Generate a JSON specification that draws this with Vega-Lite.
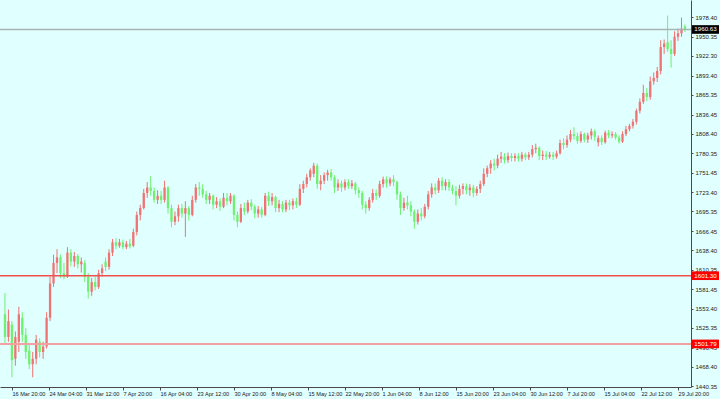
{
  "$schema": "https://vega.github.io/schema/vega-lite/v6.json",
  "width": 691,
  "height": 387,
  "autosize": {"type": "none"},
  "padding": {"left": 0, "top": 0, "right": 29, "bottom": 12},
  "background": "#e0ffff",
  "view": {"stroke": null},
  "config": {
    "font": "Liberation Sans",
    "axis": {"domainColor": "#4a4a4a", "tickColor": "#4a4a4a", "labelColor": "#222222", "grid": false, "title": null, "labelOverlap": false, "labelFlush": false, "labelBound": false}
  },
  "datasets": {
    "candles": [
      {"t":-24,"o":1545,"h":1576,"l":1500,"c":1512},
      {"t":-12,"o":1512,"h":1552,"l":1505,"c":1535},
      {"t":0,"o":1530,"h":1535,"l":1453,"c":1478},
      {"t":12,"o":1480,"h":1520,"l":1470,"c":1512},
      {"t":24,"o":1505,"h":1556,"l":1490,"c":1545},
      {"t":36,"o":1540,"h":1548,"l":1505,"c":1515},
      {"t":48,"o":1515,"h":1525,"l":1480,"c":1490},
      {"t":60,"o":1492,"h":1500,"l":1465,"c":1472},
      {"t":72,"o":1472,"h":1490,"l":1453,"c":1480},
      {"t":84,"o":1480,"h":1515,"l":1472,"c":1508},
      {"t":96,"o":1505,"h":1510,"l":1482,"c":1490},
      {"t":108,"o":1490,"h":1505,"l":1480,"c":1498},
      {"t":120,"o":1498,"h":1548,"l":1495,"c":1540},
      {"t":132,"o":1540,"h":1600,"l":1535,"c":1590},
      {"t":144,"o":1590,"h":1632,"l":1585,"c":1620},
      {"t":156,"o":1620,"h":1640,"l":1605,"c":1628},
      {"t":168,"o":1628,"h":1632,"l":1598,"c":1605},
      {"t":180,"o":1605,"h":1620,"l":1596,"c":1600},
      {"t":192,"o":1600,"h":1643,"l":1598,"c":1635},
      {"t":204,"o":1635,"h":1640,"l":1615,"c":1622},
      {"t":216,"o":1622,"h":1636,"l":1614,"c":1630},
      {"t":228,"o":1630,"h":1633,"l":1612,"c":1618},
      {"t":240,"o":1618,"h":1628,"l":1606,"c":1622},
      {"t":252,"o":1620,"h":1624,"l":1592,"c":1600},
      {"t":264,"o":1600,"h":1605,"l":1568,"c":1578},
      {"t":276,"o":1578,"h":1598,"l":1572,"c":1592},
      {"t":288,"o":1592,"h":1600,"l":1580,"c":1585},
      {"t":300,"o":1585,"h":1610,"l":1582,"c":1605},
      {"t":312,"o":1605,"h":1618,"l":1600,"c":1612},
      {"t":324,"o":1622,"h":1628,"l":1608,"c":1614},
      {"t":336,"o":1614,"h":1640,"l":1610,"c":1635},
      {"t":348,"o":1635,"h":1655,"l":1630,"c":1650},
      {"t":360,"o":1650,"h":1656,"l":1640,"c":1645},
      {"t":372,"o":1645,"h":1655,"l":1642,"c":1650},
      {"t":384,"o":1650,"h":1654,"l":1640,"c":1643},
      {"t":396,"o":1643,"h":1652,"l":1640,"c":1648},
      {"t":408,"o":1648,"h":1655,"l":1641,"c":1644},
      {"t":420,"o":1645,"h":1670,"l":1643,"c":1665},
      {"t":432,"o":1665,"h":1695,"l":1660,"c":1690},
      {"t":444,"o":1690,"h":1705,"l":1682,"c":1700},
      {"t":456,"o":1700,"h":1728,"l":1698,"c":1722},
      {"t":468,"o":1722,"h":1738,"l":1715,"c":1730},
      {"t":480,"o":1730,"h":1747,"l":1718,"c":1725},
      {"t":492,"o":1725,"h":1730,"l":1708,"c":1712},
      {"t":504,"o":1712,"h":1726,"l":1706,"c":1718},
      {"t":516,"o":1718,"h":1725,"l":1706,"c":1712},
      {"t":528,"o":1712,"h":1740,"l":1708,"c":1730},
      {"t":540,"o":1730,"h":1732,"l":1692,"c":1700},
      {"t":552,"o":1700,"h":1705,"l":1672,"c":1680},
      {"t":564,"o":1680,"h":1695,"l":1675,"c":1688},
      {"t":576,"o":1688,"h":1705,"l":1680,"c":1700},
      {"t":588,"o":1700,"h":1706,"l":1686,"c":1692},
      {"t":600,"o":1692,"h":1710,"l":1658,"c":1700},
      {"t":612,"o":1700,"h":1703,"l":1682,"c":1690},
      {"t":624,"o":1690,"h":1718,"l":1688,"c":1712},
      {"t":636,"o":1712,"h":1735,"l":1708,"c":1730},
      {"t":648,"o":1730,"h":1738,"l":1718,"c":1728},
      {"t":660,"o":1728,"h":1735,"l":1715,"c":1720},
      {"t":672,"o":1720,"h":1725,"l":1706,"c":1712},
      {"t":684,"o":1712,"h":1722,"l":1706,"c":1718},
      {"t":696,"o":1718,"h":1720,"l":1698,"c":1705},
      {"t":708,"o":1705,"h":1716,"l":1700,"c":1710},
      {"t":720,"o":1710,"h":1714,"l":1696,"c":1702},
      {"t":732,"o":1702,"h":1722,"l":1700,"c":1715},
      {"t":744,"o":1715,"h":1722,"l":1704,"c":1710},
      {"t":756,"o":1710,"h":1722,"l":1706,"c":1718},
      {"t":768,"o":1718,"h":1720,"l":1682,"c":1690},
      {"t":780,"o":1690,"h":1695,"l":1672,"c":1680},
      {"t":792,"o":1680,"h":1706,"l":1678,"c":1700},
      {"t":804,"o":1700,"h":1708,"l":1690,"c":1695},
      {"t":816,"o":1695,"h":1712,"l":1692,"c":1708},
      {"t":828,"o":1708,"h":1713,"l":1697,"c":1702},
      {"t":840,"o":1702,"h":1705,"l":1685,"c":1692},
      {"t":852,"o":1692,"h":1703,"l":1686,"c":1698},
      {"t":864,"o":1698,"h":1702,"l":1686,"c":1690},
      {"t":876,"o":1690,"h":1722,"l":1688,"c":1718},
      {"t":888,"o":1718,"h":1724,"l":1703,"c":1710},
      {"t":900,"o":1710,"h":1722,"l":1704,"c":1716},
      {"t":912,"o":1716,"h":1718,"l":1694,"c":1700},
      {"t":924,"o":1700,"h":1712,"l":1694,"c":1706},
      {"t":936,"o":1706,"h":1710,"l":1694,"c":1698},
      {"t":948,"o":1698,"h":1712,"l":1694,"c":1708},
      {"t":960,"o":1708,"h":1712,"l":1697,"c":1704},
      {"t":972,"o":1704,"h":1714,"l":1698,"c":1710},
      {"t":984,"o":1710,"h":1715,"l":1700,"c":1705},
      {"t":996,"o":1705,"h":1735,"l":1703,"c":1728},
      {"t":1008,"o":1728,"h":1740,"l":1722,"c":1735},
      {"t":1020,"o":1735,"h":1750,"l":1730,"c":1745},
      {"t":1032,"o":1745,"h":1758,"l":1740,"c":1755},
      {"t":1044,"o":1750,"h":1766,"l":1745,"c":1762},
      {"t":1056,"o":1762,"h":1765,"l":1728,"c":1735},
      {"t":1068,"o":1735,"h":1748,"l":1726,"c":1740},
      {"t":1080,"o":1740,"h":1752,"l":1735,"c":1748},
      {"t":1092,"o":1748,"h":1756,"l":1740,"c":1752},
      {"t":1104,"o":1752,"h":1757,"l":1740,"c":1745},
      {"t":1116,"o":1745,"h":1748,"l":1722,"c":1730},
      {"t":1128,"o":1730,"h":1742,"l":1725,"c":1736},
      {"t":1140,"o":1736,"h":1740,"l":1724,"c":1730},
      {"t":1152,"o":1730,"h":1742,"l":1726,"c":1738},
      {"t":1164,"o":1738,"h":1742,"l":1728,"c":1732},
      {"t":1176,"o":1732,"h":1741,"l":1728,"c":1736},
      {"t":1188,"o":1736,"h":1738,"l":1720,"c":1726},
      {"t":1200,"o":1726,"h":1730,"l":1715,"c":1722},
      {"t":1212,"o":1722,"h":1725,"l":1698,"c":1705},
      {"t":1224,"o":1705,"h":1710,"l":1692,"c":1700},
      {"t":1236,"o":1700,"h":1716,"l":1696,"c":1712},
      {"t":1248,"o":1712,"h":1728,"l":1708,"c":1722},
      {"t":1260,"o":1722,"h":1727,"l":1712,"c":1718},
      {"t":1272,"o":1718,"h":1740,"l":1715,"c":1735},
      {"t":1284,"o":1735,"h":1746,"l":1730,"c":1742},
      {"t":1296,"o":1742,"h":1746,"l":1730,"c":1736},
      {"t":1308,"o":1736,"h":1745,"l":1732,"c":1742},
      {"t":1320,"o":1742,"h":1748,"l":1732,"c":1738},
      {"t":1332,"o":1738,"h":1740,"l":1712,"c":1720},
      {"t":1344,"o":1720,"h":1724,"l":1690,"c":1700},
      {"t":1356,"o":1700,"h":1715,"l":1696,"c":1708},
      {"t":1368,"o":1708,"h":1718,"l":1698,"c":1704},
      {"t":1380,"o":1704,"h":1710,"l":1688,"c":1695},
      {"t":1392,"o":1695,"h":1698,"l":1670,"c":1680},
      {"t":1404,"o":1680,"h":1698,"l":1676,"c":1692},
      {"t":1416,"o":1692,"h":1700,"l":1682,"c":1688},
      {"t":1428,"o":1688,"h":1706,"l":1685,"c":1702},
      {"t":1440,"o":1702,"h":1725,"l":1698,"c":1720},
      {"t":1452,"o":1720,"h":1736,"l":1715,"c":1730},
      {"t":1464,"o":1730,"h":1736,"l":1720,"c":1726},
      {"t":1476,"o":1726,"h":1744,"l":1722,"c":1740},
      {"t":1488,"o":1740,"h":1745,"l":1726,"c":1732},
      {"t":1500,"o":1732,"h":1742,"l":1726,"c":1738},
      {"t":1512,"o":1738,"h":1742,"l":1725,"c":1730},
      {"t":1524,"o":1730,"h":1734,"l":1720,"c":1725},
      {"t":1536,"o":1725,"h":1732,"l":1704,"c":1718},
      {"t":1548,"o":1718,"h":1734,"l":1714,"c":1728},
      {"t":1560,"o":1728,"h":1736,"l":1720,"c":1732},
      {"t":1572,"o":1732,"h":1736,"l":1720,"c":1726},
      {"t":1584,"o":1726,"h":1735,"l":1718,"c":1730},
      {"t":1596,"o":1730,"h":1734,"l":1716,"c":1722},
      {"t":1608,"o":1722,"h":1732,"l":1718,"c":1728},
      {"t":1620,"o":1728,"h":1740,"l":1722,"c":1735},
      {"t":1632,"o":1735,"h":1758,"l":1732,"c":1750},
      {"t":1644,"o":1750,"h":1762,"l":1745,"c":1758},
      {"t":1656,"o":1758,"h":1770,"l":1750,"c":1765},
      {"t":1668,"o":1765,"h":1772,"l":1755,"c":1762},
      {"t":1680,"o":1762,"h":1778,"l":1758,"c":1772},
      {"t":1692,"o":1772,"h":1782,"l":1766,"c":1775},
      {"t":1704,"o":1775,"h":1780,"l":1765,"c":1770},
      {"t":1716,"o":1770,"h":1781,"l":1766,"c":1776},
      {"t":1728,"o":1776,"h":1780,"l":1768,"c":1773},
      {"t":1740,"o":1773,"h":1780,"l":1768,"c":1776},
      {"t":1752,"o":1776,"h":1780,"l":1768,"c":1772},
      {"t":1764,"o":1772,"h":1782,"l":1768,"c":1778},
      {"t":1776,"o":1778,"h":1781,"l":1770,"c":1774},
      {"t":1788,"o":1774,"h":1782,"l":1770,"c":1778},
      {"t":1800,"o":1778,"h":1792,"l":1774,"c":1786},
      {"t":1812,"o":1786,"h":1794,"l":1780,"c":1788},
      {"t":1824,"o":1788,"h":1790,"l":1770,"c":1776},
      {"t":1836,"o":1776,"h":1784,"l":1770,"c":1778},
      {"t":1848,"o":1778,"h":1783,"l":1770,"c":1775},
      {"t":1860,"o":1775,"h":1782,"l":1772,"c":1778},
      {"t":1872,"o":1778,"h":1782,"l":1770,"c":1775},
      {"t":1884,"o":1775,"h":1784,"l":1772,"c":1780},
      {"t":1896,"o":1780,"h":1800,"l":1778,"c":1795},
      {"t":1908,"o":1795,"h":1802,"l":1786,"c":1792},
      {"t":1920,"o":1792,"h":1806,"l":1788,"c":1800},
      {"t":1932,"o":1800,"h":1814,"l":1796,"c":1808},
      {"t":1944,"o":1808,"h":1818,"l":1800,"c":1805},
      {"t":1956,"o":1805,"h":1810,"l":1794,"c":1798},
      {"t":1968,"o":1798,"h":1812,"l":1795,"c":1808},
      {"t":1980,"o":1808,"h":1810,"l":1796,"c":1800},
      {"t":1992,"o":1800,"h":1810,"l":1795,"c":1806},
      {"t":2004,"o":1806,"h":1816,"l":1800,"c":1812},
      {"t":2016,"o":1812,"h":1815,"l":1798,"c":1804},
      {"t":2028,"o":1796,"h":1806,"l":1790,"c":1802},
      {"t":2040,"o":1802,"h":1806,"l":1792,"c":1796},
      {"t":2052,"o":1796,"h":1813,"l":1794,"c":1810},
      {"t":2064,"o":1810,"h":1814,"l":1802,"c":1806},
      {"t":2076,"o":1806,"h":1812,"l":1802,"c":1808},
      {"t":2088,"o":1808,"h":1811,"l":1800,"c":1803},
      {"t":2100,"o":1803,"h":1806,"l":1794,"c":1797},
      {"t":2112,"o":1797,"h":1812,"l":1795,"c":1808},
      {"t":2124,"o":1808,"h":1820,"l":1805,"c":1815},
      {"t":2136,"o":1815,"h":1823,"l":1812,"c":1820},
      {"t":2148,"o":1820,"h":1830,"l":1816,"c":1826},
      {"t":2160,"o":1826,"h":1845,"l":1822,"c":1842},
      {"t":2172,"o":1842,"h":1860,"l":1838,"c":1855},
      {"t":2184,"o":1855,"h":1880,"l":1852,"c":1868},
      {"t":2196,"o":1868,"h":1875,"l":1856,"c":1862},
      {"t":2208,"o":1862,"h":1892,"l":1858,"c":1885},
      {"t":2220,"o":1885,"h":1898,"l":1880,"c":1890},
      {"t":2232,"o":1890,"h":1906,"l":1884,"c":1900},
      {"t":2244,"o":1900,"h":1945,"l":1895,"c":1935},
      {"t":2256,"o":1935,"h":1946,"l":1925,"c":1940},
      {"t":2268,"o":1942,"h":1981,"l":1928,"c":1932},
      {"t":2280,"o":1932,"h":1945,"l":1905,"c":1925},
      {"t":2292,"o":1925,"h":1958,"l":1922,"c":1950},
      {"t":2304,"o":1950,"h":1962,"l":1944,"c":1955},
      {"t":2316,"o":1955,"h":1978,"l":1950,"c":1962},
      {"t":2328,"o":1965,"h":1968,"l":1957,"c":1960.63}
    ],
    "levels": [
      {"name": "last", "price": 1960.63, "label": "1960.63"},
      {"name": "r1", "price": 1601.30, "label": "1601.30"},
      {"name": "r2", "price": 1501.79, "label": "1501.79"}
    ]
  },
  "layer": [
    {
      "data": {"name": "candles"},
      "mark": {"type": "rule", "strokeWidth": 1},
      "encoding": {
        "x": {
          "field": "t", "type": "quantitative",
          "scale": {"domain": [-23.86, 2331.6], "nice": false, "zero": false},
          "axis": {
            "values": [0,128,256,384,512,640,768,896,1024,1152,1280,1408,1536,1664,1792,1920,2048,2176,2304],
            "tickCount": 40,
            "labelExpr": "['16 Mar 20:00','24 Mar 04:00','31 Mar 12:00','7 Apr 20:00','16 Apr 04:00','23 Apr 12:00','30 Apr 20:00','8 May 04:00','15 May 12:00','22 May 20:00','1 Jun 04:00','8 Jun 12:00','15 Jun 20:00','23 Jun 04:00','30 Jun 12:00','7 Jul 20:00','15 Jul 04:00','22 Jul 12:00','29 Jul 20:00'][round(datum.value/128)]",
            "labelAlign": "left", "labelFontSize": 5.6, "labelPadding": 1, "tickSize": 3,
            "labelOverlap": false, "labelFlush": false, "labelBound": false, "domainWidth": 1
          }
        },
        "y": {
          "field": "l", "type": "quantitative",
          "scale": {"domain": [1438.9, 2003.65], "nice": false, "zero": false},
          "axis": {
            "orient": "right",
            "values": [1440.35,1468.40,1496.45,1525.35,1553.40,1581.45,1610.35,1638.40,1666.45,1695.35,1723.40,1751.45,1780.35,1808.40,1836.45,1865.35,1893.40,1922.30,1950.35,1978.40],
            "tickCount": 40,
            "format": ".2f", "labelFontSize": 6, "tickSize": 2, "labelPadding": 2,
            "labelOverlap": false, "labelFlush": false, "labelBound": false
          }
        },
        "y2": {"field": "h"},
        "color": {"condition": {"test": "datum.c >= datum.o", "value": "#f07272"}, "value": "#6ff06f"}
      }
    },
    {
      "data": {"name": "candles"},
      "mark": {"type": "bar", "width": 2.3},
      "encoding": {
        "x": {"field": "t", "type": "quantitative"},
        "y": {"field": "o", "type": "quantitative"},
        "y2": {"field": "c"},
        "color": {"condition": {"test": "datum.c >= datum.o", "value": "#f07272"}, "value": "#6ff06f"}
      }
    },
    {
      "data": {"name": "levels"},
      "transform": [{"filter": "datum.name == 'last'"}],
      "mark": {"type": "rule", "color": "#a9b3b3", "strokeWidth": 1.5},
      "encoding": {"y": {"field": "price", "type": "quantitative"}}
    },
    {
      "data": {"name": "levels"},
      "transform": [{"filter": "datum.name == 'r1'"}],
      "mark": {"type": "rule", "color": "#f05050", "strokeWidth": 1.4},
      "encoding": {"y": {"field": "price", "type": "quantitative"}}
    },
    {
      "data": {"name": "levels"},
      "transform": [{"filter": "datum.name == 'r2'"}],
      "mark": {"type": "rule", "color": "#f2a0a0", "strokeWidth": 2},
      "encoding": {"y": {"field": "price", "type": "quantitative"}}
    },
    {
      "data": {"name": "levels"},
      "mark": {"type": "point", "filled": true, "opacity": 1, "strokeWidth": 0, "size": 729, "shape": "M-1,-0.32L1,-0.32L1,0.32L-1,0.32Z", "x": 705.5},
      "encoding": {
        "y": {"field": "price", "type": "quantitative"},
        "color": {"condition": {"test": "datum.name == 'last'", "value": "#000000"}, "value": "#ff0000"}
      }
    },
    {
      "data": {"name": "levels"},
      "mark": {"type": "text", "x": 705.5, "fontSize": 6.2, "color": "#ffffff", "align": "center", "baseline": "middle"},
      "encoding": {
        "y": {"field": "price", "type": "quantitative"},
        "text": {"field": "label"}
      }
    }
  ]
}
